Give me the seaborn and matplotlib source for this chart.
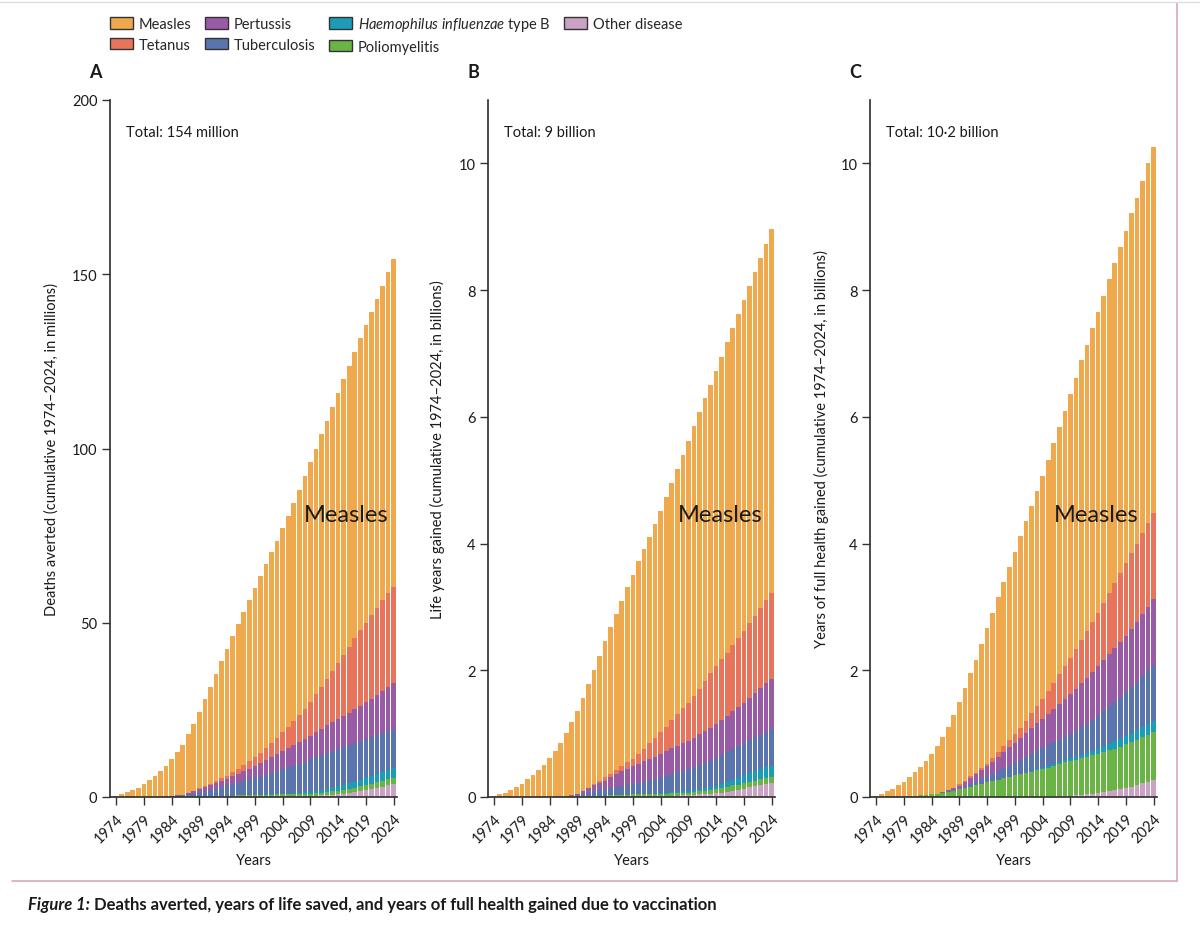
import matplotlib
matplotlib.use("Agg")
import matplotlib.pyplot as plt
from matplotlib.patches import Patch
from matplotlib.lines import Line2D
import seaborn as sns
import numpy as np
import pandas as pd

years = list(range(1974, 2025))
tick_years = list(range(1974, 2025, 5))

diseases = ["Measles", "Tetanus", "Pertussis", "Tuberculosis",
            "Haemophilus influenzae type B", "Poliomyelitis", "Other disease"]
colors = ["#efa84b", "#e8755b", "#9a5ba6", "#5a74ae", "#1c9cb6", "#6ab445", "#c9a2c4"]

# ---- Panel A: deaths averted (millions) ----
total_a = [0.2, 0.8, 1.3, 2.0, 2.7, 3.6, 4.8, 6.1, 7.4, 8.9, 10.8,
           12.8, 15.0, 18.0, 20.9, 24.5, 28.2, 31.7, 35.3, 38.9, 42.5,
           46.1, 49.6, 53.0, 56.5, 59.9, 63.3, 66.9, 70.2, 73.5, 77.1,
           80.7, 84.4, 88.2, 92.0, 96.0, 100.0, 104.2, 108.0, 112.0, 115.9,
           119.9, 123.8, 127.6, 131.6, 135.4, 139.3, 142.9, 146.7, 150.6, 154.4]
tetanus_a = [0] * 14 + [0.1, 0.2, 0.3, 0.4, 0.6, 0.75, 0.9,
             1.2, 1.5, 1.8, 2.1, 2.4, 2.9, 3.4, 4.0, 4.6, 5.3,
             6.1, 6.9, 7.8, 8.7, 9.7, 10.9, 12.1, 13.4, 14.7, 16.1,
             17.5, 18.9, 20.3, 21.6, 22.8, 23.9, 24.9, 25.9, 26.8, 27.6]
pertussis_a = [0] * 11 + [0.1, 0.2, 0.4, 0.7, 1.0, 1.2, 1.4, 1.6, 1.75, 1.9,
               2.2, 2.5, 2.8, 3.1, 3.4, 3.8, 4.2, 4.6, 4.9, 5.3,
               5.6, 5.9, 6.1, 6.4, 6.7, 7.1, 7.5, 7.9, 8.2, 8.6,
               9.0, 9.4, 9.8, 10.2, 10.6, 11.1, 11.7, 12.2, 12.8, 13.4]
tb_a = [0] * 8 + [0.05, 0.1, 0.15, 0.25, 0.4, 0.6, 0.8, 1.1, 1.4, 1.7, 2.1, 2.5, 2.9,
        3.3, 3.7, 4.1, 4.5, 5.0, 5.3, 5.7, 6.2, 6.6, 7.0,
        7.5, 8.0, 8.4, 8.8, 9.4, 9.8, 10.1, 10.4, 10.6, 10.6,
        10.8, 10.9, 11.0, 11.0, 11.0, 11.1, 11.1, 11.2, 11.1, 10.9]
hib_a = [0] * 26 + [0.05, 0.05, 0.1, 0.1, 0.15, 0.2, 0.25, 0.3, 0.4, 0.5,
                    0.6, 0.7, 0.85, 1.0, 1.4, 1.5, 1.6, 1.7, 1.9, 2.1,
                    2.2, 2.4, 2.5, 2.7, 2.9]
polio_a = [0] * 6 + [0.0, 0.05, 0.05, 0.1, 0.1, 0.1, 0.1, 0.15, 0.2, 0.2,
                     0.25, 0.3, 0.3, 0.35, 0.4, 0.4, 0.45, 0.5, 0.55, 0.6,
                     0.55, 0.6, 0.6, 0.55, 0.6, 0.6, 0.6, 0.6, 0.65, 0.7,
                     0.7, 0.75, 0.8, 0.9, 1.0, 1.05, 1.1, 1.2, 1.3, 1.4,
                     1.45, 1.5, 1.6, 1.65, 1.7]
other_a = [0] * 26 + [0.1, 0.1, 0.1, 0.2, 0.2, 0.2, 0.2, 0.3, 0.3, 0.3,
                      0.4, 0.5, 0.6, 0.7, 0.8, 1.0, 1.2, 1.5, 1.8, 2.1,
                      2.4, 2.7, 3.0, 3.4, 3.7]

# ---- Panel B: life years gained (billions) ----
total_b = [0.01, 0.04, 0.07, 0.11, 0.15, 0.21, 0.28, 0.35, 0.42, 0.50, 0.61,
           0.72, 0.85, 1.01, 1.18, 1.36, 1.57, 1.79, 2.00, 2.23, 2.46,
           2.68, 2.89, 3.10, 3.31, 3.51, 3.72, 3.91, 4.11, 4.31, 4.52,
           4.73, 4.96, 5.17, 5.40, 5.62, 5.85, 6.07, 6.29, 6.51, 6.73,
           6.95, 7.18, 7.40, 7.62, 7.84, 8.06, 8.29, 8.51, 8.73, 8.96]
tetanus_b = [0] * 17 + [0.01, 0.02, 0.035, 0.05,
             0.06, 0.07, 0.085, 0.1, 0.11, 0.15, 0.2, 0.25, 0.3, 0.34,
             0.39, 0.44, 0.5, 0.55, 0.6, 0.66, 0.72, 0.79, 0.86, 0.92,
             0.96, 1.0, 1.05, 1.09, 1.13, 1.18, 1.22, 1.27, 1.31, 1.36]
pertussis_b = [0] * 13 + [0.005, 0.01, 0.02, 0.04, 0.06, 0.085, 0.11, 0.13,
               0.165, 0.2, 0.23, 0.26, 0.29, 0.305, 0.32, 0.34, 0.355, 0.37,
               0.385, 0.40, 0.42, 0.435, 0.45, 0.465, 0.48, 0.50, 0.515, 0.53,
               0.55, 0.57, 0.59, 0.61, 0.63, 0.66, 0.70, 0.73, 0.77, 0.80]
tb_b = [0] * 12 + [0.003, 0.007, 0.012, 0.02, 0.04, 0.06, 0.08, 0.095, 0.11,
        0.12, 0.13, 0.14, 0.15, 0.16, 0.18, 0.2, 0.22, 0.235, 0.25,
        0.27, 0.29, 0.305, 0.32, 0.34, 0.36, 0.38, 0.40, 0.42, 0.44,
        0.455, 0.47, 0.49, 0.505, 0.52, 0.53, 0.54, 0.55, 0.56, 0.57]
hib_b = [0] * 27 + [0.003, 0.005, 0.008, 0.01, 0.014, 0.018, 0.022, 0.026, 0.03,
                    0.034, 0.038, 0.042, 0.046, 0.05, 0.064, 0.078, 0.092, 0.106, 0.12,
                    0.132, 0.144, 0.156, 0.168, 0.18]
polio_b = [0] * 10 + [0.005, 0.005, 0.01, 0.01, 0.01, 0.01, 0.012, 0.015, 0.017, 0.02, 0.02,
                      0.025, 0.03, 0.033, 0.037, 0.04, 0.04, 0.04, 0.04, 0.04, 0.04,
                      0.04, 0.04, 0.04, 0.04, 0.04, 0.045, 0.05, 0.055, 0.06, 0.07,
                      0.075, 0.08, 0.083, 0.087, 0.09, 0.09, 0.09, 0.09, 0.09, 0.09]
other_b = [0] * 30 + [0.01, 0.01, 0.02, 0.02, 0.03, 0.03, 0.035, 0.04, 0.045, 0.05, 0.06,
                      0.07, 0.08, 0.10, 0.11, 0.13, 0.15, 0.17, 0.19, 0.21, 0.22]

# ---- Panel C: years of full health gained (billions) ----
total_c = [0.01, 0.05, 0.09, 0.13, 0.19, 0.24, 0.31, 0.40, 0.48, 0.57, 0.68,
           0.81, 0.94, 1.11, 1.29, 1.50, 1.72, 1.95, 2.17, 2.42, 2.66,
           2.91, 3.15, 3.39, 3.63, 3.87, 4.12, 4.36, 4.60, 4.83, 5.06,
           5.32, 5.58, 5.84, 6.09, 6.36, 6.62, 6.89, 7.14, 7.40, 7.66,
           7.91, 8.17, 8.43, 8.68, 8.94, 9.21, 9.46, 9.72, 10.00, 10.26]
tetanus_c = [0] * 13 + [0.005, 0.01, 0.02, 0.022, 0.024, 0.026, 0.028, 0.03,
             0.05, 0.07, 0.09, 0.11, 0.13, 0.165, 0.2, 0.235, 0.27, 0.31,
             0.36, 0.415, 0.47, 0.525, 0.58, 0.63, 0.685, 0.735, 0.79, 0.84,
             0.9, 0.96, 1.025, 1.09, 1.15, 1.19, 1.23, 1.27, 1.32, 1.36]
pertussis_c = [0] * 12 + [0.005, 0.015, 0.03, 0.05, 0.07, 0.095, 0.12, 0.145, 0.17,
               0.2, 0.23, 0.26, 0.29, 0.32, 0.345, 0.37, 0.4, 0.425, 0.45,
               0.49, 0.52, 0.56, 0.595, 0.63, 0.66, 0.695, 0.725, 0.76, 0.79,
               0.81, 0.83, 0.85, 0.87, 0.89, 0.92, 0.945, 0.975, 1.0, 1.03]
tb_c = [0] * 12 + [0.002, 0.004, 0.007, 0.01, 0.025, 0.04, 0.055, 0.07, 0.09,
        0.11, 0.13, 0.155, 0.175, 0.2, 0.225, 0.25, 0.275, 0.3, 0.32,
        0.33, 0.345, 0.355, 0.37, 0.38, 0.41, 0.435, 0.465, 0.49, 0.52,
        0.55, 0.585, 0.615, 0.65, 0.68, 0.72, 0.76, 0.81, 0.85, 0.89]
hib_c = [0] * 27 + [0.005, 0.01, 0.015, 0.02, 0.024, 0.028, 0.032, 0.036, 0.04,
                    0.048, 0.056, 0.064, 0.072, 0.08, 0.092, 0.104, 0.116, 0.128, 0.14,
                    0.148, 0.156, 0.164, 0.172, 0.18]
polio_c = [0, 0.002, 0.004, 0.006, 0.008, 0.01, 0.015, 0.02, 0.026, 0.033, 0.04,
           0.055, 0.07, 0.085, 0.10, 0.12, 0.14, 0.165, 0.185, 0.21, 0.23,
           0.25, 0.275, 0.295, 0.32, 0.34, 0.36, 0.38, 0.40, 0.42, 0.44,
           0.46, 0.485, 0.505, 0.53, 0.55, 0.565, 0.58, 0.59, 0.605, 0.62,
           0.635, 0.65, 0.66, 0.675, 0.69, 0.70, 0.715, 0.725, 0.74, 0.75]
other_c = [0] * 31 + [0.005, 0.01, 0.012, 0.015, 0.02, 0.025, 0.03, 0.04, 0.05, 0.06,
                      0.075, 0.09, 0.105, 0.12, 0.14, 0.165, 0.19, 0.215, 0.24, 0.27]

panels = [
    dict(letter="A", total=total_a,
         parts=[tetanus_a, pertussis_a, tb_a, hib_a, polio_a, other_a],
         ylim=200, yticks=[0, 50, 100, 150, 200],
         ylabel="Deaths averted (cumulative 1974–2024, in millions)",
         note="Total: 154 million", left=110, ylab_x=-0.178, meas_x=0.972),
    dict(letter="B", total=total_b,
         parts=[tetanus_b, pertussis_b, tb_b, hib_b, polio_b, other_b],
         ylim=11, yticks=[0, 2, 4, 6, 8, 10],
         ylabel="Life years gained (cumulative 1974–2024, in billions)",
         note="Total: 9 billion", left=488, ylab_x=-0.150, meas_x=0.958),
    dict(letter="C", total=total_c,
         parts=[tetanus_c, pertussis_c, tb_c, hib_c, polio_c, other_c],
         ylim=11, yticks=[0, 2, 4, 6, 8, 10],
         ylabel="Years of full health gained (cumulative 1974–2024, in billions)",
         note="Total: 10·2 billion", left=870, ylab_x=-0.143, meas_x=0.934),
]

sns.set_theme(style="ticks")
plt.rcParams["font.family"] = ["Lato", "DejaVu Sans"]
plt.rcParams["mathtext.fontset"] = "custom"
plt.rcParams["mathtext.it"] = "Lato:italic"
plt.rcParams["mathtext.rm"] = "Lato"
txt = "#1a1a1a"

fig = plt.figure(figsize=(12, 9.29), dpi=100)
W, H = 1200, 929

for p in panels:
    ax = fig.add_axes([p["left"] / W, 1 - 798 / H, 287 / W, 697 / H])
    # build long table, measles is what remains of the bar total
    df = pd.DataFrame({"year": years, "total": p["total"]})
    for name, vals in zip(diseases[1:], p["parts"]):
        df[name] = vals
    df["Measles"] = df["total"] - df[diseases[1:]].sum(axis=1)
    x = np.arange(len(years))
    # stacking order from the bottom up
    bottom = np.zeros(len(years))
    for name in ["Other disease", "Poliomyelitis", "Haemophilus influenzae type B",
                 "Tuberculosis", "Pertussis", "Tetanus", "Measles"]:
        c = colors[diseases.index(name)]
        ax.bar(x, df[name].values, bottom=bottom, width=0.84, color=c, linewidth=0)
        bottom = bottom + df[name].values

    ax.set_xlim(-1.1, 50.6)
    ax.set_ylim(0, p["ylim"])
    ax.set_yticks(p["yticks"])
    ax.set_yticklabels([str(t) for t in p["yticks"]], fontsize=10.5, color=txt)
    ax.set_xticks([years.index(y) for y in tick_years])
    ax.set_xticklabels([str(y) for y in tick_years], rotation=45, ha="right",
                       rotation_mode="anchor", fontsize=10.5, color=txt)
    ax.tick_params(axis="both", length=6, width=1, color="#333333", pad=3)
    ax.tick_params(axis="x", pad=4)
    sns.despine(ax=ax)
    ax.spines["left"].set_color("#333333")
    ax.spines["bottom"].set_color("#333333")
    ax.set_ylabel(p["ylabel"], fontsize=10.5, color=txt)
    ax.yaxis.set_label_coords(p["ylab_x"], 0.5)
    ax.set_xlabel("Years", fontsize=10.5, color=txt)
    ax.xaxis.set_label_coords(0.5, -0.081)
    ax.text(0.056, 0.954, p["note"], transform=ax.transAxes, fontsize=10.5,
            color=txt, va="center", ha="left")
    ax.text(p["meas_x"], 0.405, "Measles", transform=ax.transAxes, fontsize=17,
            color=txt, va="center", ha="right")
    fig.text((p["left"] - 15) / W, 1 - 73 / H, p["letter"], fontsize=13,
             fontweight="bold", color=txt, ha="center", va="center")

# legend
labels = ["Measles", "Tetanus", "Pertussis", "Tuberculosis",
          r"$\it{Haemophilus\ influenzae}$ type B", "Poliomyelitis", "Other disease"]
handles = [Patch(facecolor=c, edgecolor="#333333", linewidth=1) for c in colors]
fig.legend(handles, labels, ncol=4, loc="upper left",
           bbox_to_anchor=(110 / W, 1 - 16 / H), frameon=False, fontsize=10.5,
           handlelength=1.6, handleheight=0.85, handletextpad=0.35,
           columnspacing=0.95, labelspacing=0.45, borderaxespad=0, borderpad=0)

# frame lines
fig.add_artist(Line2D([12 / W, 1177 / W], [1 - 882 / H, 1 - 882 / H],
                      color="#d9a9b2", linewidth=1.2))
fig.add_artist(Line2D([1177 / W, 1177 / W], [1 - 882 / H, 1 - 4 / H],
                      color="#d9a9b2", linewidth=1.2))
fig.add_artist(Line2D([0, 1], [1 - 3 / H, 1 - 3 / H], color="#dddddd", linewidth=1))

# caption
cap1 = fig.text(28 / W, 1 - 905 / H, "Figure 1:", fontsize=12, fontweight="bold",
                fontstyle="italic", color=txt, va="center", ha="left")
fig.canvas.draw()
bb = cap1.get_window_extent(renderer=fig.canvas.get_renderer())
fig.text(bb.x1 / W + 4 / W, 1 - 905 / H,
         "Deaths averted, years of life saved, and years of full health gained due to vaccination",
         fontsize=12, fontweight="bold", color=txt, va="center", ha="left")

fig.savefig("out.png", dpi=100)
